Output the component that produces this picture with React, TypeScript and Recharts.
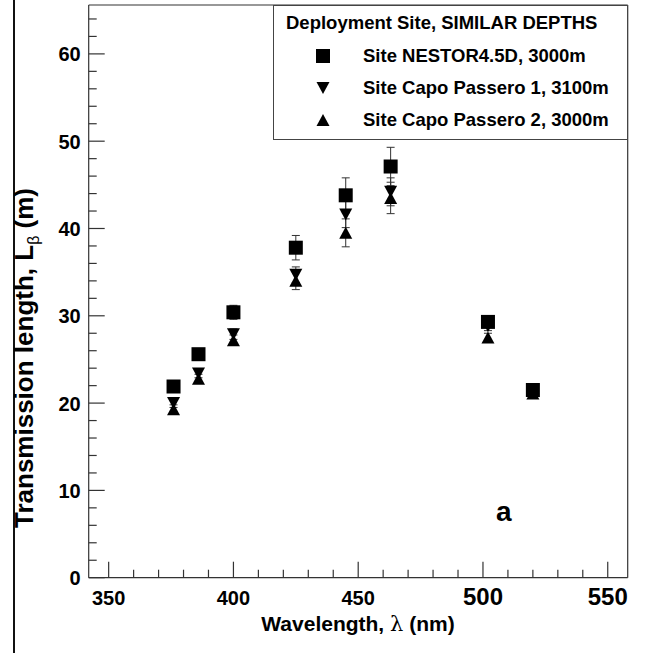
import React from "react"
import { ScatterChart, Scatter, XAxis, YAxis, ErrorBar } from "recharts"

// LED wavelengths (nm)
const wavelengths = [376, 386, 400, 425, 445, 463, 502, 520]

// transmission length L_beta (m) per site
const nestor = [21.9, 25.6, 30.4, 37.8, 43.8, 47.1, 29.3, 21.5]
const nestorErr = [0.5, 0.5, 0.8, 1.4, 2.0, 2.2, 0.6, 0.6]
const capo1 = [20.0, 23.4, 27.9, 34.7, 41.6, 44.2, 28.8, 21.4]
const capo1Err = [0.5, 0.5, 0.6, 0.9, 1.5, 1.6, 0.5, 0.5]
const capo2 = [19.3, 22.8, 27.2, 34.0, 39.5, 43.5, 27.5, 21.1]
const capo2Err = [0.5, 0.5, 0.6, 1.0, 1.6, 1.8, 0.5, 0.5]

const xMajor = [350, 400, 450, 500, 550]
const yMajor = [0, 10, 20, 30, 40, 50, 60]
const xTicks = Array.from({ length: 21 }, (_, i) => 350 + i * 10)
const yTicks = Array.from({ length: 33 }, (_, i) => i * 2)

const FONT = "'Liberation Sans', Arial, Helvetica, sans-serif"
const FRAME = "#333"

const toPoints = (vals: number[], errs: number[]) =>
  wavelengths.map((x, i) => ({ x, y: vals[i], err: errs[i] }))

function Square(props: any) {
  const { cx, cy } = props
  return <rect x={cx - 7} y={cy - 7} width={14} height={14} fill="#000" />
}

function TriDown(props: any) {
  const { cx, cy } = props
  return (
    <polygon
      points={`${cx - 6.5},${cy - 6} ${cx + 6.5},${cy - 6} ${cx},${cy + 6}`}
      fill="#000"
    />
  )
}

function TriUp(props: any) {
  const { cx, cy } = props
  return (
    <polygon
      points={`${cx - 6.5},${cy + 6} ${cx + 6.5},${cy + 6} ${cx},${cy - 6}`}
      fill="#000"
    />
  )
}

function XTick(props: any) {
  const { x, y, payload } = props
  const v = payload.value
  const major = xMajor.includes(v)
  const big = v >= 500
  return (
    <g>
      <line x1={x} x2={x} y1={y} y2={y - (major ? 16 : 8)} stroke={FRAME} strokeWidth={1.2} />
      {major && (
        <text
          x={x}
          y={y + 27}
          textAnchor="middle"
          fontSize={big ? 24 : 20}
          fontWeight="bold"
          fontFamily={FONT}
          fill="#000"
        >
          {v}
        </text>
      )}
    </g>
  )
}

function YTick(props: any) {
  const { x, y, payload } = props
  const v = payload.value
  const major = yMajor.includes(v)
  return (
    <g>
      <line x1={x} x2={x + (major ? 16 : 8)} y1={y} y2={y} stroke={FRAME} strokeWidth={1.2} />
      {major && (
        <text
          x={x - 8}
          y={y + 7.5}
          textAnchor="end"
          fontSize={20}
          fontWeight="bold"
          fontFamily={FONT}
          fill="#000"
        >
          {v}
        </text>
      )}
    </g>
  )
}

function LegendRow({ top, label, marker }: { top: number; label: string; marker: string }) {
  return (
    <div style={{ position: "absolute", left: 0, top: top - 12, height: 24, width: 355 }}>
      <svg width={30} height={24} style={{ position: "absolute", left: 34, top: 0 }}>
        {marker === "square" && <Square cx={15} cy={12} />}
        {marker === "down" && <TriDown cx={15} cy={12} />}
        {marker === "up" && <TriUp cx={15} cy={12} />}
      </svg>
      <div
        style={{
          position: "absolute",
          left: 89,
          top: 0,
          lineHeight: "24px",
          fontSize: 18.5,
          fontWeight: "bold",
          whiteSpace: "nowrap",
        }}
      >
        {label}
      </div>
    </div>
  )
}

export default function App() {
  return (
    <div
      style={{
        position: "absolute",
        left: 0,
        top: 0,
        width: 645,
        height: 653,
        background: "#fff",
        fontFamily: FONT,
        color: "#000",
      }}
    >
      {/* page edge line */}
      <div style={{ position: "absolute", left: 13, top: 0, width: 1.5, height: 653, background: "#111" }} />

      <ScatterChart
        width={645}
        height={653}
        margin={{ top: 4, right: 16.3, left: 87.7, bottom: 74.3 }}
      >
        <XAxis
          type="number"
          dataKey="x"
          domain={[342, 558]}
          ticks={xTicks}
          interval={0}
          tick={<XTick />}
          tickLine={false}
          tickSize={0}
          tickMargin={0}
          height={1}
          axisLine={{ stroke: FRAME, strokeWidth: 1.2 }}
          allowDataOverflow
        />
        <XAxis
          xAxisId="top"
          orientation="top"
          type="number"
          domain={[342, 558]}
          tick={false}
          tickLine={false}
          height={1}
          axisLine={{ stroke: FRAME, strokeWidth: 1.2 }}
        />
        <YAxis
          type="number"
          dataKey="y"
          domain={[0, 65.6]}
          ticks={yTicks}
          interval={0}
          tick={<YTick />}
          tickLine={false}
          tickSize={0}
          tickMargin={0}
          width={1}
          axisLine={{ stroke: FRAME, strokeWidth: 1.2 }}
          allowDataOverflow
        />
        <YAxis
          yAxisId="right"
          orientation="right"
          type="number"
          domain={[0, 65.6]}
          tick={false}
          tickLine={false}
          width={1}
          axisLine={{ stroke: FRAME, strokeWidth: 1.2 }}
        />
        <Scatter data={toPoints(nestor, nestorErr)} shape={<Square />} isAnimationActive={false}>
          <ErrorBar dataKey="err" direction="y" width={4} stroke="#333" strokeWidth={1} isAnimationActive={false} />
        </Scatter>
        <Scatter data={toPoints(capo1, capo1Err)} shape={<TriDown />} isAnimationActive={false}>
          <ErrorBar dataKey="err" direction="y" width={4} stroke="#333" strokeWidth={1} isAnimationActive={false} />
        </Scatter>
        <Scatter data={toPoints(capo2, capo2Err)} shape={<TriUp />} isAnimationActive={false}>
          <ErrorBar dataKey="err" direction="y" width={4} stroke="#333" strokeWidth={1} isAnimationActive={false} />
        </Scatter>
      </ScatterChart>

      {/* legend box */}
      <div
        style={{
          position: "absolute",
          left: 273,
          top: 5,
          width: 353,
          height: 133,
          border: "1.2px solid #444",
          background: "#fff",
        }}
      >
        <div
          style={{
            position: "absolute",
            left: 12,
            top: 5,
            fontSize: 18.5,
            fontWeight: "bold",
            whiteSpace: "nowrap",
            lineHeight: "24px",
          }}
        >
          Deployment Site, SIMILAR DEPTHS
        </div>
        <LegendRow top={50} label="Site NESTOR4.5D, 3000m" marker="square" />
        <LegendRow top={82} label="Site Capo Passero 1, 3100m" marker="down" />
        <LegendRow top={114} label="Site Capo Passero 2, 3000m" marker="up" />
      </div>

      {/* panel tag */}
      <div
        style={{
          position: "absolute",
          left: 496,
          top: 496,
          fontSize: 28,
          fontWeight: "bold",
        }}
      >
        a
      </div>

      {/* x axis title */}
      <div
        style={{
          position: "absolute",
          left: 158,
          width: 400,
          top: 612,
          textAlign: "center",
          fontSize: 21,
          fontWeight: "bold",
          whiteSpace: "nowrap",
        }}
      >
        Wavelength, <span style={{ fontWeight: "normal", fontFamily: "'DejaVu Serif', serif" }}>λ</span> (nm)
      </div>

      {/* y axis title */}
      <div
        style={{
          position: "absolute",
          left: 24 - 250,
          top: 358 - 15,
          width: 500,
          height: 30,
          lineHeight: "30px",
          textAlign: "center",
          transform: "rotate(-90deg)",
          fontSize: 26,
          fontWeight: "bold",
          whiteSpace: "nowrap",
        }}
      >
        Transmission length, L<sub style={{ fontSize: 16, fontWeight: "normal" }}>β</sub> (m)
      </div>
    </div>
  )
}
